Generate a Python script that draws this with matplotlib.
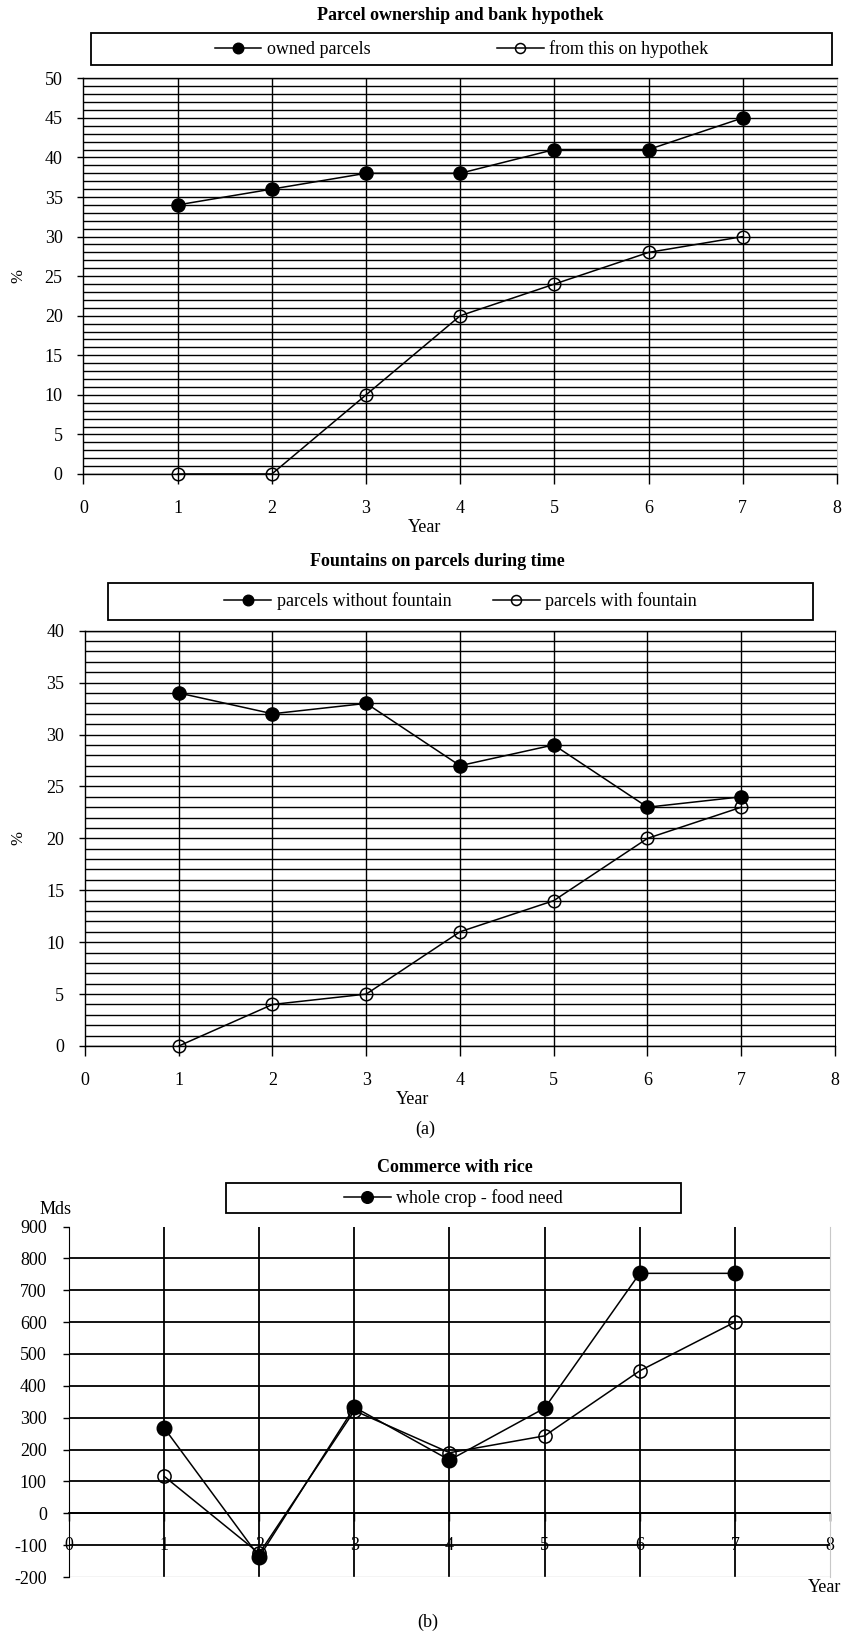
import matplotlib
matplotlib.use("Agg")
import matplotlib.pyplot as plt
from matplotlib.patches import Rectangle
from matplotlib.ticker import MultipleLocator

plt.rcParams['font.family'] = ['Liberation Serif', 'DejaVu Serif']
plt.rcParams['font.size'] = 13
plt.rcParams['axes.unicode_minus'] = False

# data
years = [1, 2, 3, 4, 5, 6, 7]
owned = [34, 36, 38, 38, 41, 41, 45]
hypothek = [0, 0, 10, 20, 24, 28, 30]
no_fountain = [34, 32, 33, 27, 29, 23, 24]
with_fountain = [0, 4, 5, 11, 14, 20, 23]
rice_surplus = [268, -137, 333, 167, 330, 753, 753]
rice_second = [116, -126, 322, 190, 243, 447, 600]
x_ticks = [0, 1, 2, 3, 4, 5, 6, 7, 8]

W, H = 845, 1636
fig = plt.figure(figsize=(W / 100, H / 100), dpi=100)
LIGHT = '#c8c8c8'


def axes_px(left, top, right, bottom):
    return fig.add_axes([left / W, 1 - bottom / H, (right - left) / W, (bottom - top) / H])


def ftext(x, y, s, **kw):
    fig.text(x / W, 1 - y / H, s, **kw)


def legend_box(handles, labels, left, top, right, bottom, colsp):
    fig.patches.append(Rectangle((left / W, 1 - bottom / H), (right - left) / W, (bottom - top) / H,
                                 transform=fig.transFigure, fill=False, edgecolor='black', lw=1.3))
    fig.legend(handles, labels, loc='center', ncol=len(labels), frameon=False,
               bbox_to_anchor=((left + right) / 2 / W, 1 - (top + bottom) / 2 / H),
               handlelength=2.6, handletextpad=0.3, columnspacing=colsp, fontsize=13,
               markerscale=0.8)


def pct_chart(ax, ymax, y1, y2, right_color):
    ax.set_xlim(0, 8)
    ax.set_ylim(0, ymax)
    ax.yaxis.set_major_locator(MultipleLocator(5))
    ax.yaxis.set_minor_locator(MultipleLocator(1))
    ax.grid(axis='y', which='both', color='black', lw=1.0, zorder=0)
    for x in years:
        ax.axvline(x, color='black', lw=1.0, zorder=0)
    ax.set_xticks(x_ticks)
    ax.tick_params(axis='y', which='major', direction='out', length=4, width=1, pad=11)
    ax.tick_params(axis='y', which='minor', length=0)
    ax.tick_params(axis='x', direction='out', length=7, width=1, pad=12)
    for s in ['left', 'bottom', 'top']:
        ax.spines[s].set_color('black')
        ax.spines[s].set_linewidth(1.0)
    ax.spines['right'].set_color(right_color)
    l1, = ax.plot(years, y1, color='black', lw=1.1, marker='o', ms=9.5,
                  mfc='black', mec='black', zorder=3, clip_on=False)
    l2, = ax.plot(years, y2, color='black', lw=1.1, marker='o', ms=9,
                  mfc='none', mec='black', mew=1.1, zorder=3, clip_on=False)
    ax.set_axisbelow(True)
    return l1, l2


# chart 1
ax1 = axes_px(83.5, 78.3, 837, 474)
h1, h2 = pct_chart(ax1, 50, owned, hypothek, LIGHT)
ftext(460, 16, 'Parcel ownership and bank hypothek', ha='center', va='center',
      fontsize=13, fontweight='bold')
legend_box([h1, h2], ['owned parcels', 'from this on hypothek'], 91, 33, 832, 65, 7.0)
ftext(425, 527, 'Year', ha='center', va='center', fontsize=13)
ftext(18, 276, '%', ha='center', va='center', rotation=90, fontsize=12)

# chart 2
ax2 = axes_px(85, 630.7, 835, 1046)
g1, g2 = pct_chart(ax2, 40, no_fountain, with_fountain, 'black')
ftext(437, 561, 'Fountains on parcels during time', ha='center', va='center',
      fontsize=13, fontweight='bold')
legend_box([g1, g2], ['parcels without fountain', 'parcels with fountain'], 108, 583, 813, 620, 2.3)
ftext(413, 1099, 'Year', ha='center', va='center', fontsize=13)
ftext(18, 838, '%', ha='center', va='center', rotation=90, fontsize=12)
ftext(425, 1129, '(a)', ha='center', va='center', fontsize=13)

# chart 3
ax3 = axes_px(69, 1226.5, 830, 1577)
ax3.set_xlim(0, 8)
ax3.set_ylim(-200, 900)
ax3.set_yticks(list(range(-200, 901, 100)))
ax3.set_xticks(x_ticks)
ax3.set_xticklabels([])
for y in range(-100, 801, 100):
    ax3.axhline(y, color='black', lw=1.3, zorder=0)
for x in years:
    ax3.axvline(x, color='black', lw=1.3, zorder=0)
ax3.axhline(-200, color=LIGHT, lw=1.0, zorder=0)
ax3.spines['bottom'].set_position(('data', 0))
ax3.spines['bottom'].set_color('black')
ax3.spines['bottom'].set_linewidth(1.3)
ax3.spines['top'].set_visible(False)
ax3.spines['right'].set_color(LIGHT)
ax3.spines['left'].set_color('black')
ax3.tick_params(axis='y', direction='out', length=4, width=1, pad=12)
ax3.tick_params(axis='x', direction='out', length=6, width=1)
for x in x_ticks:
    ax3.text(x, -100, str(x), ha='center', va='center', fontsize=13, zorder=1)
k1, = ax3.plot(years, rice_surplus, color='black', lw=1.1, marker='o', ms=10.5,
               mfc='black', mec='black', zorder=3)
ax3.plot(years, rice_second, color='black', lw=1.1, marker='o', ms=9.5,
         mfc='none', mec='black', mew=1.1, zorder=3)
ftext(455, 1167, 'Commerce with rice', ha='center', va='center', fontsize=13, fontweight='bold')
legend_box([k1], ['whole crop - food need'], 226, 1183, 681, 1213, 1.0)
ftext(56, 1210, 'Mds', ha='center', va='center', fontsize=13)
ftext(808, 1588, 'Year', ha='left', va='center', fontsize=13)
ftext(428, 1622, '(b)', ha='center', va='center', fontsize=13)

fig.savefig('out.png', dpi=100)
